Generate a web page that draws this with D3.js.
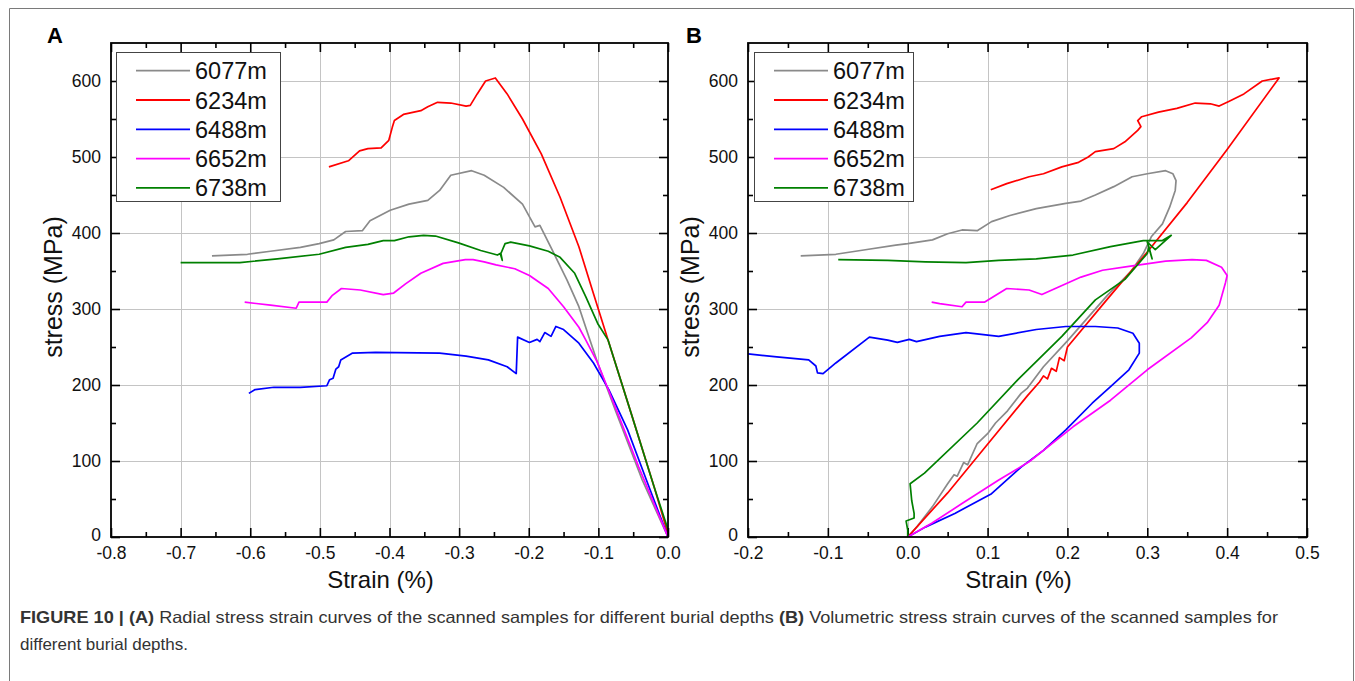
<!DOCTYPE html>
<html>
<head>
<meta charset="utf-8">
<script src="https://cdn.jsdelivr.net/npm/d3@7"></script>
<style>
  body { margin: 0; background: #fff; }
  svg { display: block; font-family: "Liberation Sans", Arial, sans-serif; }
</style>
</head>
<body>
<svg id="chart" width="1355" height="681"></svg>
<script>
// series names and colours
var depths = ["6077m", "6234m", "6488m", "6652m", "6738m"];
var colors = ["#8a8a8a", "#ff0000", "#0000ff", "#ff00ff", "#008000"];

// panel A: radial strain (%) vs stress (MPa)
var radial6077 = [[-0.655,370],[-0.604,372],[-0.571,376],[-0.528,381],[-0.501,386],[-0.48,391],[-0.463,402],[-0.439,403],[-0.428,416],[-0.399,430],[-0.372,438],[-0.345,443],[-0.328,456],[-0.312,476],[-0.282,482],[-0.264,476],[-0.236,460],[-0.209,438],[-0.191,408],[-0.184,410],[-0.166,377],[-0.145,338],[-0.128,303],[-0.112,259],[-0.101,229],[-0.074,163],[-0.037,75],[0,0]];
var radial6234 = [[-0.487,487],[-0.459,495],[-0.443,508],[-0.431,511],[-0.412,512],[-0.401,522],[-0.396,539],[-0.393,548],[-0.38,556],[-0.355,561],[-0.345,566],[-0.331,572],[-0.312,571],[-0.29,567],[-0.284,568],[-0.274,583],[-0.262,600],[-0.248,604],[-0.231,583],[-0.209,550],[-0.182,504],[-0.155,447],[-0.128,382],[-0.107,320],[-0.086,259],[-0.053,163],[-0.02,66],[0,4]];
var radial6488 = [[-0.602,189],[-0.593,194],[-0.566,197],[-0.528,197],[-0.49,199],[-0.486,207],[-0.481,209],[-0.477,221],[-0.473,224],[-0.47,233],[-0.453,242],[-0.42,243],[-0.328,242],[-0.29,238],[-0.258,233],[-0.231,224],[-0.218,215],[-0.216,263],[-0.199,256],[-0.188,260],[-0.184,257],[-0.177,269],[-0.168,264],[-0.161,277],[-0.15,273],[-0.128,255],[-0.107,229],[-0.085,194],[-0.058,141],[-0.031,75],[0,0]];
var radial6652 = [[-0.608,309],[-0.571,305],[-0.534,301],[-0.53,309],[-0.49,309],[-0.482,318],[-0.469,327],[-0.442,325],[-0.409,319],[-0.394,321],[-0.377,333],[-0.355,347],[-0.323,360],[-0.291,365],[-0.28,365],[-0.264,362],[-0.247,358],[-0.22,353],[-0.199,344],[-0.172,327],[-0.15,303],[-0.128,276],[-0.118,259],[-0.101,229],[-0.074,167],[-0.042,92],[0,0]];
var radial6738 = [[-0.7,361],[-0.615,361],[-0.561,366],[-0.501,372],[-0.463,381],[-0.431,385],[-0.409,390],[-0.393,390],[-0.372,395],[-0.351,397],[-0.334,396],[-0.301,387],[-0.269,377],[-0.245,371],[-0.241,373],[-0.238,364],[-0.24,373],[-0.234,386],[-0.226,388],[-0.199,383],[-0.172,376],[-0.155,368],[-0.134,347],[-0.118,316],[-0.101,281],[-0.086,259],[-0.053,163],[-0.02,66],[0,10]];

// panel B: volumetric strain (%) vs stress (MPa)
var volume6077 = [[0,0],[0.012,14],[0.031,40],[0.05,70],[0.058,82],[0.062,80],[0.07,98],[0.075,95],[0.087,123],[0.1,136],[0.11,150],[0.125,166],[0.142,189],[0.15,196],[0.17,224],[0.2,258],[0.25,318],[0.28,350],[0.295,373],[0.305,395],[0.319,412],[0.328,434],[0.335,456],[0.336,469],[0.332,478],[0.323,482],[0.3,478],[0.281,474],[0.258,461],[0.235,450],[0.217,442],[0.198,439],[0.161,432],[0.128,423],[0.105,415],[0.087,403],[0.068,404],[0.05,399],[0.031,391],[0,386],[-0.015,384],[-0.053,378],[-0.09,372],[-0.134,370]];
var volume6234 = [[0,0],[0.05,58],[0.1,122],[0.15,186],[0.165,204],[0.17,212],[0.175,208],[0.18,222],[0.186,218],[0.19,236],[0.196,232],[0.2,250],[0.25,313],[0.3,375],[0.35,440],[0.4,510],[0.465,604],[0.444,600],[0.421,583],[0.402,573],[0.39,567],[0.379,570],[0.36,571],[0.337,564],[0.314,559],[0.293,553],[0.288,548],[0.292,540],[0.288,535],[0.272,520],[0.258,511],[0.235,507],[0.226,500],[0.214,493],[0.193,487],[0.17,478],[0.152,474],[0.124,465],[0.104,457]];
var volume6488 = [[-0.2,241],[-0.164,237],[-0.124,233],[-0.115,225],[-0.113,216],[-0.106,215],[-0.09,229],[-0.048,263],[-0.025,259],[-0.013,256],[0.002,260],[0.011,257],[0.04,264],[0.073,269],[0.114,264],[0.161,273],[0.198,277],[0.235,277],[0.263,275],[0.282,268],[0.29,255],[0.29,242],[0.277,220],[0.254,198],[0.231,176],[0.198,141],[0.17,114],[0.142,92],[0.105,57],[0.059,31],[0.022,13],[0,0]];
var volume6652 = [[0.03,309],[0.04,307],[0.068,303],[0.073,309],[0.096,309],[0.124,327],[0.152,325],[0.168,319],[0.189,329],[0.217,342],[0.244,351],[0.277,356],[0.323,363],[0.356,365],[0.374,364],[0.393,355],[0.4,344],[0.398,335],[0.39,305],[0.375,282],[0.355,262],[0.3,220],[0.254,180],[0.207,145],[0.152,99],[0.114,75],[0.068,44],[0.03,18],[0,0]];
var volume6738 = [[0,0],[0,9],[-0.002,21],[0.008,25],[0.008,31],[0.005,48],[0.003,70],[0.021,84],[0.087,150],[0.138,207],[0.193,264],[0.235,312],[0.272,339],[0.3,373],[0.302,382],[0.306,366],[0.3,388],[0.31,378],[0.33,397],[0.319,390],[0.295,390],[0.254,382],[0.207,371],[0.161,366],[0.114,364],[0.073,361],[0.022,362],[-0.025,364],[-0.087,365]];

// axis settings
var stressTicks = [0, 100, 200, 300, 400, 500, 600];
var radialTicks = [-0.8, -0.7, -0.6, -0.5, -0.4, -0.3, -0.2, -0.1, 0.0];
var volumeTicks = [-0.2, -0.1, 0.0, 0.1, 0.2, 0.3, 0.4, 0.5];

var caption1 = [["FIGURE 10 | ", true], ["(A)", true], [" Radial stress strain curves of the scanned samples for different burial depths ", false], ["(B)", true], [" Volumetric stress strain curves of the scanned samples for", false]];
var caption2 = "different burial depths.";

var svg = d3.select("#chart");

// outer frame
svg.append("path")
  .attr("d", "M9.5,682 V8.5 H1353.5 V682")
  .attr("fill", "none").attr("stroke", "#7a7a7a").attr("stroke-width", 1);

var fmt = function(d) { return d3.format(".1f")(d).replace("\u2212", "-"); };

function panel(opt) {
  var x = d3.scaleLinear().domain(opt.xDomain).range([opt.left, opt.right]);
  var y = d3.scaleLinear().domain([0, 650]).range([537, 43]);
  var g = svg.append("g");

  var clipId = "clip" + opt.letter;
  svg.append("clipPath").attr("id", clipId)
    .append("rect").attr("x", opt.left).attr("y", 43)
    .attr("width", opt.right - opt.left).attr("height", 494);

  // grid
  var grid = g.append("g").attr("stroke", "#c4c4c4").attr("stroke-width", 1);
  opt.xTicks.forEach(function(t) {
    var px = Math.round(x(t)) + 0.5;
    if (px > opt.left + 2 && px < opt.right - 2)
      grid.append("line").attr("x1", px).attr("x2", px).attr("y1", 43).attr("y2", 537);
  });
  stressTicks.forEach(function(t) {
    var py = Math.round(y(t)) + 0.5;
    if (t > 0)
      grid.append("line").attr("x1", opt.left).attr("x2", opt.right).attr("y1", py).attr("y2", py);
  });

  // minor ticks
  var xMinor = d3.range(opt.xDomain[0] + 0.05, opt.xDomain[1], 0.1).map(function(d) { return +d.toFixed(3); });
  var yMinor = d3.range(50, 650, 100);

  function addAxis(axis, transform) {
    var a = g.append("g").attr("transform", transform).call(axis);
    a.select(".domain").remove();
    a.selectAll("line").attr("stroke", "#000").attr("stroke-width", 1.6);
    a.selectAll("text").attr("font-size", 17.5).attr("fill", "#111")
      .attr("font-family", "'Liberation Sans', Arial, sans-serif");
    return a;
  }

  addAxis(d3.axisBottom(x).tickValues(opt.xTicks).tickSize(-9).tickPadding(10).tickFormat(fmt), "translate(0,537)");
  addAxis(d3.axisBottom(x).tickValues(xMinor).tickSize(-5).tickFormat(""), "translate(0,537)");
  addAxis(d3.axisTop(x).tickValues(opt.xTicks).tickSize(-9).tickFormat(""), "translate(0,43)");
  addAxis(d3.axisTop(x).tickValues(xMinor).tickSize(-5).tickFormat(""), "translate(0,43)");
  var yl = addAxis(d3.axisLeft(y).tickValues(stressTicks).tickSize(-9).tickPadding(10), "translate(" + opt.left + ",0)");
  yl.selectAll("text").attr("dy", function(d) { return d === 0 ? "0.2em" : "0.32em"; });
  addAxis(d3.axisLeft(y).tickValues(yMinor).tickSize(-5).tickFormat(""), "translate(" + opt.left + ",0)");
  addAxis(d3.axisRight(y).tickValues(stressTicks).tickSize(-9).tickFormat(""), "translate(" + opt.right + ",0)");
  addAxis(d3.axisRight(y).tickValues(yMinor).tickSize(-5).tickFormat(""), "translate(" + opt.right + ",0)");

  // curves
  var line = d3.line().x(function(d) { return x(d[0]); }).y(function(d) { return y(d[1]); });
  var cg = g.append("g").attr("clip-path", "url(#" + clipId + ")");
  opt.series.forEach(function(s, i) {
    cg.append("path").datum(s)
      .attr("d", line)
      .attr("fill", "none")
      .attr("stroke", colors[i])
      .attr("stroke-width", 1.7)
      .attr("stroke-linejoin", "round");
  });

  // frame
  g.append("rect").attr("x", opt.left).attr("y", 43)
    .attr("width", opt.right - opt.left).attr("height", 494)
    .attr("fill", "none").attr("stroke", "#000").attr("stroke-width", 1.8);

  // legend
  var lg = g.append("g");
  lg.append("rect").attr("x", opt.legX + 0.5).attr("y", 52.5)
    .attr("width", opt.legW).attr("height", 149)
    .attr("fill", "#fff").attr("stroke", "#444").attr("stroke-width", 1);
  depths.forEach(function(name, i) {
    var ly = 70.7 + i * 29.3;
    lg.append("line").attr("x1", opt.legX + 20).attr("x2", opt.legX + 74)
      .attr("y1", ly).attr("y2", ly)
      .attr("stroke", colors[i]).attr("stroke-width", 1.8);
    lg.append("text").attr("x", opt.legX + 79).attr("y", ly + 8.5)
      .attr("font-size", 23.5).attr("fill", "#111").text(name);
  });

  // titles
  g.append("text").attr("x", (opt.left + opt.right) / 2 - 9).attr("y", 588)
    .attr("text-anchor", "middle").attr("font-size", 24).attr("fill", "#111")
    .text("Strain (%)");
  g.append("text")
    .attr("transform", "translate(" + (opt.left - 49) + ",287) rotate(-90)")
    .attr("text-anchor", "middle").attr("font-size", 25).attr("fill", "#111")
    .text("stress (MPa)");
  g.append("text").attr("x", opt.letterX).attr("y", 43)
    .attr("font-size", 22).attr("font-weight", "bold").attr("fill", "#000")
    .text(opt.letter);
}

panel({
  letter: "A", letterX: 47,
  xDomain: [-0.8, 0], xTicks: radialTicks,
  left: 111, right: 668, legX: 116, legW: 164,
  series: [radial6077, radial6234, radial6488, radial6652, radial6738]
});

panel({
  letter: "B", letterX: 686,
  xDomain: [-0.2, 0.5], xTicks: volumeTicks,
  left: 748, right: 1307, legX: 754, legW: 159,
  series: [volume6077, volume6234, volume6488, volume6652, volume6738]
});

// caption
var cap = svg.append("text").attr("x", 20).attr("y", 623)
  .attr("font-size", 16.5).attr("fill", "#333")
  .attr("textLength", 1258).attr("lengthAdjust", "spacingAndGlyphs");
caption1.forEach(function(p) {
  cap.append("tspan").attr("font-weight", p[1] ? "bold" : "normal").text(p[0]);
});
svg.append("text").attr("x", 20).attr("y", 650)
  .attr("font-size", 16.5).attr("fill", "#333")
  .attr("textLength", 168).attr("lengthAdjust", "spacingAndGlyphs")
  .text(caption2);
</script>
</body>
</html>
